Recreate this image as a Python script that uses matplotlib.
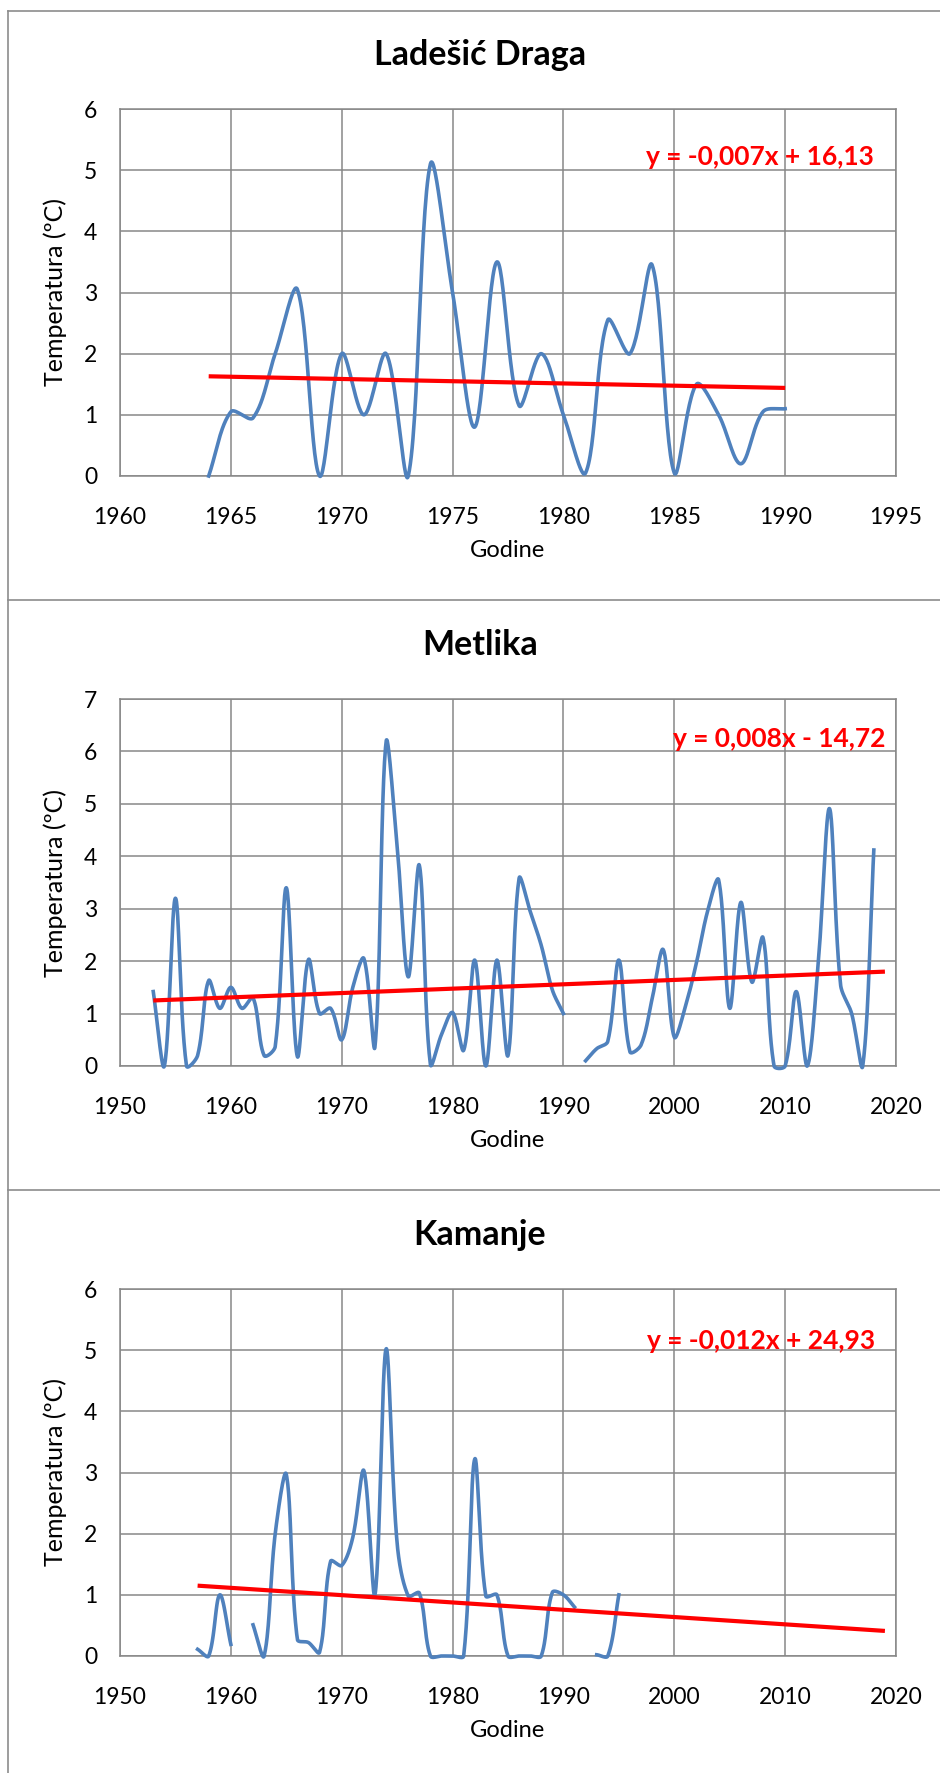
import numpy as np
import matplotlib as mpl
import matplotlib.pyplot as plt
from matplotlib.lines import Line2D

mpl.rcParams['font.family'] = ['Lato', 'DejaVu Sans']

# ---- data ----
lad_years = list(range(1964, 1991))
lad_temp = [0.0, 1.05, 0.95, 2.0, 3.05, 0.0, 2.0, 1.0, 2.0, 0.0,
            5.1, 3.0, 0.8, 3.5, 1.15, 2.0, 1.0, 0.05, 2.55, 2.0,
            3.45, 0.05, 1.5, 1.0, 0.2, 1.05, 1.1]
lad_trend_x = [1964, 1990]
lad_trend_y = [1.63, 1.44]

met_years = list(range(1953, 2019))
met_temp = [1.42, 0.0, 3.2, 0.0, 0.2, 1.63, 1.1, 1.5, 1.1, 1.3,
            0.2, 0.37, 3.4, 0.18, 2.03, 1.0, 1.1, 0.5, 1.5, 2.05,
            0.37, 6.18, 4.2, 1.7, 3.83, 0.03, 0.6, 1.02, 0.3, 2.02,
            0.0, 2.02, 0.2, 3.58, 2.95, 2.3, 1.45, 1.0, np.nan, 0.1,
            0.33, 0.47, 2.02, 0.27, 0.4, 1.28, 2.22, 0.55, 1.13, 1.97,
            2.95, 3.55, 1.1, 3.12, 1.6, 2.45, 0.0, 0.0, 1.42, 0.0,
            2.0, 4.91, 1.55, 1.0, 0.0, 4.12]
met_trend_x = [1953, 2019]
met_trend_y = [1.25, 1.80]

kam_years = list(range(1957, 1996))
kam_temp = [0.11, 0.0, 1.0, 0.19, np.nan, 0.51, 0.0, 2.0, 2.97, 0.27,
            0.22, 0.06, 1.55, 1.48, 1.94, 3.03, 1.0, 5.02, 1.84, 0.98,
            1.03, 0.0, 0.0, 0.0, 0.0, 3.22, 0.98, 1.0, 0.0, 0.0,
            0.0, 0.0, 1.04, 1.0, 0.8, np.nan, 0.02, 0.0, 1.0]
kam_trend_x = [1957, 2019]
kam_trend_y = [1.15, 0.41]

LINE_BLUE = '#4F81BD'
GRID_GRAY = '#878787'
W, H = 940, 1773


def smooth(x, y, sx, sy, n=30):
    # Excel-like smoothed line: cubic Bezier through the points, control
    # points scaled by the chord lengths measured on screen
    x = np.asarray(x, float)
    y = np.asarray(y, float)
    P = np.column_stack([x * sx, y * sy])
    P = np.vstack([P[0], P, P[-1]])
    d = np.hypot(*np.diff(P, axis=0).T)
    t = np.linspace(0, 1, n)[:, None]
    out = []
    for i in range(1, len(P) - 2):
        p0, p3 = P[i], P[i + 1]
        dm, d0, dp = d[i - 1], d[i], d[i + 1]
        k1 = d0 / (dm + d0) if dm + d0 > 0 else 0.5
        k2 = d0 / (d0 + dp) if d0 + dp > 0 else 0.5
        c1 = p0 + (P[i + 1] - P[i - 1]) * k1 / 3
        c2 = p3 - (P[i + 2] - P[i]) * k2 / 3
        b = (1 - t) ** 3 * p0 + 3 * (1 - t) ** 2 * t * c1 \
            + 3 * (1 - t) * t ** 2 * c2 + t ** 3 * p3
        out.append(b)
    out = np.vstack(out)
    return out[:, 0] / sx, out[:, 1] / sy


def draw_series(ax, years, temps, sx, sy):
    years = np.asarray(years, float)
    temps = np.asarray(temps, float)
    idx = np.where(~np.isnan(temps))[0]
    runs = np.split(idx, np.where(np.diff(idx) > 1)[0] + 1)
    for r in runs:
        if len(r) < 2:
            continue
        xs, ys = smooth(years[r], temps[r], sx, sy)
        ax.plot(xs, ys, color=LINE_BLUE, lw=2.6, clip_on=False, zorder=3)


def setup(ax, xlim, xstep, ymax, eq, eq_pos, trend_x, trend_y, years, temps):
    sx = 776 / (xlim[1] - xlim[0])
    sy = 367 / ymax
    draw_series(ax, years, temps, sx, sy)
    ax.plot(trend_x, trend_y, color='#FF0000', lw=3.0, zorder=4,
            solid_capstyle='butt')
    ax.set_xlim(*xlim)
    ax.set_ylim(0, ymax)
    ax.set_xticks(np.arange(xlim[0], xlim[1] + 1, xstep))
    ax.set_yticks(np.arange(0, ymax + 1, 1))
    ax.grid(True, color=GRID_GRAY, lw=1.1)
    ax.set_axisbelow(True)
    for s in ax.spines.values():
        s.set_color(GRID_GRAY)
        s.set_linewidth(1.1)
    ax.tick_params(length=0, labelsize=16.5)
    ax.tick_params(axis='x', pad=22)
    ax.tick_params(axis='y', pad=16.5)
    ax.set_xlabel('Godine', fontsize=17)
    ax.xaxis.set_label_coords(0.5, -0.204)
    ax.xaxis.label.set_verticalalignment('center')
    ax.set_ylabel('Temperatura (ºC)', fontsize=18)
    ax.yaxis.set_label_coords(-0.083, 0.5)
    ax.yaxis.label.set_verticalalignment('center')
    ax.text(eq_pos[0], eq_pos[1], eq, transform=ax.transAxes, ha='right',
            va='center', color='#FF0000', fontsize=19, fontweight='bold')


fig = plt.figure(figsize=(9.4, 17.73), dpi=100)


def axes_px(x0, y0, x1, y1):
    return fig.add_axes([x0 / W, 1 - y1 / H, (x1 - x0) / W, (y1 - y0) / H])


ax1 = axes_px(120, 109, 896, 476)
setup(ax1, (1960, 1995), 5, 6, 'y = -0,007x + 16,13',
      (0.972, 0.869), lad_trend_x, lad_trend_y, lad_years, lad_temp)
ax2 = axes_px(120, 699, 896, 1066)
setup(ax2, (1950, 2020), 10, 7, 'y = 0,008x - 14,72',
      (0.987, 0.891), met_trend_x, met_trend_y, met_years, met_temp)
ax3 = axes_px(120, 1289, 896, 1656)
setup(ax3, (1950, 2020), 10, 6, 'y = -0,012x + 24,93',
      (0.973, 0.858), kam_trend_x, kam_trend_y, kam_years, kam_temp)

# titles
for title, ty in [('Ladešić Draga', 55), ('Metlika', 645), ('Kamanje', 1235)]:
    fig.text(480 / W, 1 - ty / H, title, ha='center', va='center',
             fontsize=24.5, fontweight='bold')

# panel borders
bc = '#8c8c8c'
fig.add_artist(Line2D([8 / W, 8 / W], [0, 1 - 11 / H], color=bc, lw=1.2,
                      transform=fig.transFigure))
for yy in [11, 600, 1190]:
    fig.add_artist(Line2D([8 / W, 1], [1 - yy / H, 1 - yy / H], color=bc,
                          lw=1.2, transform=fig.transFigure))

fig.savefig('out.png', dpi=100)
